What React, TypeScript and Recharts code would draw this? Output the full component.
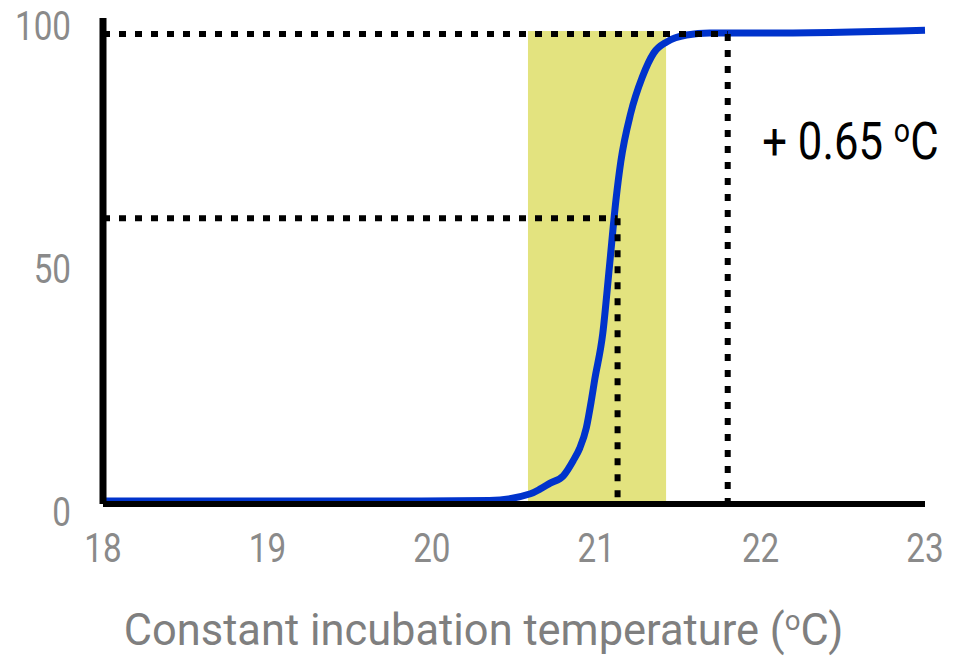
import React from 'react';
import { LineChart, Line, XAxis, YAxis, ReferenceArea, ReferenceLine, ReferenceDot } from 'recharts';

const FONT = "Roboto, 'Noto Sans', sans-serif";
const SX = 0.81; // horizontal condensing of tick glyphs
const SX_TITLE = 0.987;
const SX_ANNO = 0.84;

// Incubation temperature (°C) and response (%)
const temps = [18, 19.2, 19.93, 20.35, 20.6, 20.66, 20.72, 20.8, 20.86, 20.9, 20.94, 20.97, 20.99, 21.04, 21.08, 21.12, 21.15, 21.21, 21.28, 21.35, 21.43, 21.55, 21.69, 22.0, 23.0];
const pct = [0.6, 0.6, 0.6, 0.7, 2.1, 3.1, 4.3, 5.8, 8.9, 11.5, 15.7, 21.2, 25.4, 35.1, 48.7, 62.5, 70.5, 80.4, 87.8, 92.8, 95.1, 96.5, 96.9, 96.9, 97.5];

const xTicks = [18, 19, 20, 21, 22, 23];
const yTicks = [0, 50, 100];

const band = [20.585, 21.425];
const bandTop = 97.3;
const topLevel = 96.7;
const midLevel = 58.8;
const leftCut = 21.13;
const rightCut = 21.8;

const annoTemp = 22.01;
const annoPct = 71.0;
const annoText = '+ 0.65 ';
const xTitle = 'Constant incubation temperature (';

const data = temps.map((t, i) => ({ temp: t, pct: pct[i] }));

const XTick = (props: any) => {
  const { x, y, payload } = props;
  return (
    <text transform={`translate(${x},${y + 58}) scale(${SX},1)`} x={0} y={0} textAnchor="middle" fill="#8a8a8a" fontSize={41} fontFamily={FONT}>
      {payload.value}
    </text>
  );
};

const YTick = (props: any) => {
  const { x, y, payload } = props;
  return (
    <text transform={`translate(${x - 32},${y + 22}) scale(${SX},1)`} x={0} y={0} textAnchor="end" fill="#8a8a8a" fontSize={41} fontFamily={FONT}>
      {payload.value}
    </text>
  );
};

const renderTitle = (props: any) => {
  const vb = props.viewBox || {};
  const cx = vb.x + vb.width / 2 - 30.5;
  const by = vb.y + 141;
  return (
    <text transform={`translate(${cx},${by}) scale(${SX_TITLE},1)`} x={0} y={0} textAnchor="middle" fill="#7f7f7f" fontSize={44} fontFamily={FONT}>
      <tspan>{xTitle}</tspan>
      <tspan dy={-15} fontSize={28}>o</tspan>
      <tspan dy={15}>C)</tspan>
    </text>
  );
};

const renderAnno = (props: any) => {
  const vb = props.viewBox || {};
  const x = vb.x + (vb.width || 0) / 2;
  const y = vb.y + (vb.height || 0) / 2;
  return (
    <text transform={`translate(${x},${y}) scale(${SX_ANNO},1)`} x={0} y={0} textAnchor="start" fill="#000" fontSize={52} fontFamily={FONT}>
      <tspan>{annoText}</tspan>
      <tspan dy={-17} fontSize={34}>o</tspan>
      <tspan dy={17}>C</tspan>
    </text>
  );
};

export default function App() {
  return (
    <div style={{ position: 'absolute', left: 0, top: 0, width: 954, height: 657, background: '#fff' }}>
      <LineChart width={954} height={657} data={data} margin={{ top: 18, right: 29, left: 0, bottom: 0 }}>
        <ReferenceArea x1={band[0]} x2={band[1]} y1={0} y2={bandTop} fill="#E3E37F" fillOpacity={1} stroke="none" />
        <XAxis
          type="number"
          dataKey="temp"
          domain={[18, 23]}
          ticks={xTicks}
          interval={0}
          height={153}
          axisLine={{ stroke: '#000', strokeWidth: 6 }}
          tickLine={false}
          tickSize={0}
          tickMargin={0}
          tick={(p: any) => <XTick {...p} />}
          label={renderTitle}
        />
        <YAxis
          type="number"
          domain={[0, 100]}
          ticks={yTicks}
          interval={0}
          width={103}
          axisLine={{ stroke: '#000', strokeWidth: 7 }}
          tickLine={false}
          tickSize={0}
          tickMargin={0}
          tick={(p: any) => <YTick {...p} />}
        />
        <Line
          type="monotone"
          dataKey="pct"
          stroke="#0033CC"
          strokeWidth={7}
          dot={false}
          activeDot={false}
          isAnimationActive={false}
        />
        <ReferenceLine segment={[{ x: 18, y: topLevel }, { x: rightCut, y: topLevel }]} stroke="#000" strokeWidth={6} strokeDasharray="7 9" />
        <ReferenceLine segment={[{ x: rightCut, y: topLevel }, { x: rightCut, y: 0 }]} stroke="#000" strokeWidth={6} strokeDasharray="7 9" />
        <ReferenceLine segment={[{ x: 18, y: midLevel }, { x: leftCut, y: midLevel }]} stroke="#000" strokeWidth={6} strokeDasharray="7 9" />
        <ReferenceLine segment={[{ x: leftCut, y: midLevel }, { x: leftCut, y: 0 }]} stroke="#000" strokeWidth={6} strokeDasharray="7 9" />
        <ReferenceDot x={annoTemp} y={annoPct} r={0} fill="none" stroke="none" label={renderAnno} />
      </LineChart>
    </div>
  );
}
